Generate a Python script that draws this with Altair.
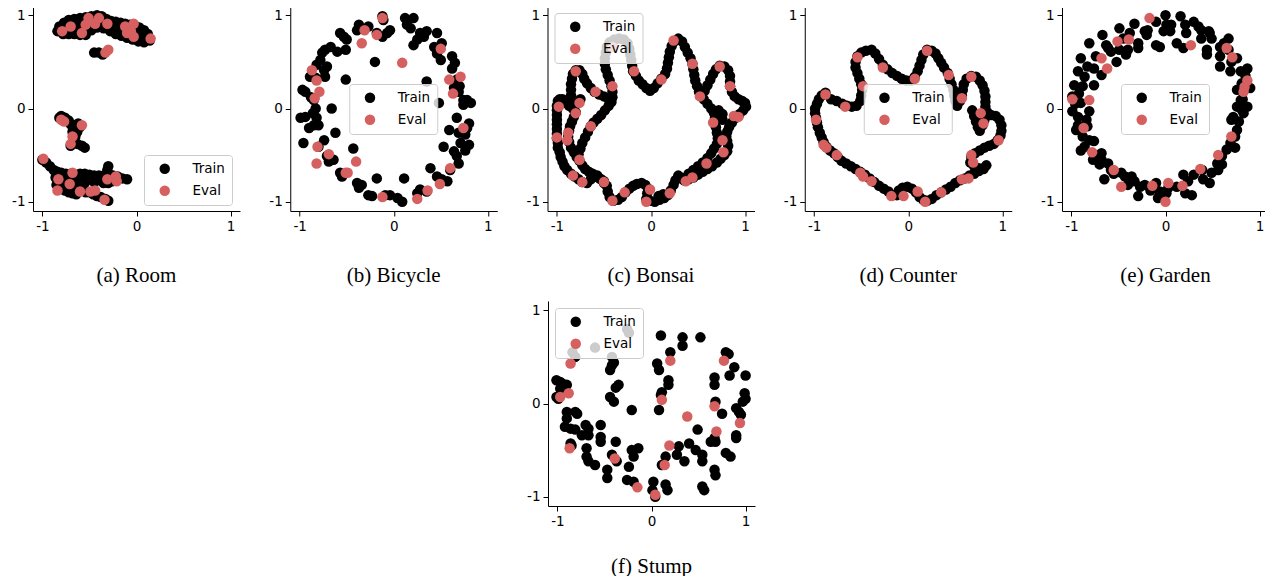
import altair as alt
import pandas as pd

# ---------------- data ----------------
ROOM_TRAIN = [
    (-0.82,0.88),(-0.77,0.92),(-0.72,0.95),(-0.66,0.96),(-0.6,0.97),(-0.54,0.98),(-0.48,0.99),(-0.42,1.0),(-0.37,0.99),
    (-0.32,0.96),(-0.27,0.94),(-0.22,0.93),(-0.17,0.92),(-0.12,0.91),(-0.07,0.9),(-0.02,0.89),(0.03,0.87),(0.08,0.84),(0.12,0.8),
    (-0.84,0.83),(-0.78,0.85),(-0.72,0.87),(-0.66,0.88),(-0.6,0.89),(-0.54,0.91),(-0.48,0.93),(-0.42,0.94),(-0.36,0.92),
    (-0.3,0.89),(-0.24,0.87),(-0.18,0.85),(-0.12,0.84),(-0.06,0.83),(0.0,0.81),(0.05,0.79),(0.1,0.76),(0.14,0.73),
    (-0.78,0.8),(-0.72,0.8),(-0.66,0.8),(-0.6,0.79),(-0.54,0.79),(-0.48,0.84),(-0.42,0.87),(-0.35,0.86),(-0.28,0.83),
    (-0.22,0.8),(-0.16,0.78),(-0.1,0.76),(-0.04,0.74),(0.02,0.72),(0.08,0.71),
    (-0.45,0.6),(-0.4,0.6),(-0.36,0.58),
    (-0.82,-0.1),(-0.8,-0.08),(-0.76,-0.1),(-0.72,-0.13),(-0.7,-0.17),(-0.66,-0.18),(-0.62,-0.16),(-0.6,-0.2),(-0.63,-0.25),
    (-0.65,-0.3),(-0.66,-0.35),(-0.63,-0.38),(-0.58,-0.4),(-0.55,-0.42),(-0.7,-0.4),(-0.68,-0.25),
    (-1.0,-0.55),(-0.96,-0.58),(-0.92,-0.62),(-0.88,-0.66),(-0.84,-0.68),(-0.8,-0.69),(-0.75,-0.7),(-0.7,-0.7),(-0.65,-0.71),
    (-0.6,-0.7),(-0.55,-0.7),(-0.5,-0.71),(-0.45,-0.72),(-0.4,-0.72),(-0.35,-0.72),(-0.3,-0.7),(-0.25,-0.72),(-0.2,-0.73),
    (-0.15,-0.75),(-0.1,-0.76),(-0.3,-0.62),(-0.31,-0.66),
    (-0.86,-0.74),(-0.82,-0.78),(-0.78,-0.8),(-0.74,-0.78),(-0.7,-0.82),(-0.66,-0.84),(-0.62,-0.86),(-0.58,-0.88),(-0.54,-0.9),
    (-0.5,-0.9),(-0.46,-0.92),(-0.42,-0.94),(-0.38,-0.95),(-0.33,-0.97),(-0.3,-0.99),(-0.85,-0.82),(-0.8,-0.86),(-0.76,-0.88),
    (-0.72,-0.9),(-0.68,-0.91),(-0.64,-0.92),(-0.3,-0.8),(-0.26,-0.78),(-0.45,-0.79),(-0.55,-0.8),(-0.6,-0.78),
    (-0.5,-0.76),(-0.4,-0.77),(-0.35,-0.8),(-0.65,-0.76),(-0.7,-0.75),(-0.8,-0.74),
]
ROOM_EVAL = [
    (-0.79,0.83),(-0.7,0.88),(-0.58,0.81),(-0.51,0.97),(-0.54,0.9),(-0.44,0.91),(-0.4,0.97),(-0.31,0.91),(-0.12,0.88),
    (-0.03,0.91),(-0.06,0.83),(-0.03,0.77),(0.15,0.75),(-0.1,0.81),(-0.33,0.6),(-0.3,0.63),(-0.8,-0.12),(-0.77,-0.14),
    (-0.58,-0.18),(-0.68,-0.3),(-0.7,-0.38),(-0.99,-0.54),(-0.83,-0.76),(-0.68,-0.69),(-0.84,-0.88),(-0.71,-0.81),
    (-0.6,-0.89),(-0.49,-0.89),(-0.44,-0.88),(-0.34,-0.98),(-0.31,-0.76),(-0.22,-0.73),(-0.21,-0.78),
]

BICYCLE_TRAIN = [
    (-0.12,0.99),(-0.11,0.95),(0.12,0.97),(0.21,0.97),(0.14,0.9),(0.18,0.86),(-0.04,0.84),(-0.07,0.81),(-0.12,0.77),
    (-0.18,0.81),(-0.27,0.88),(-0.37,0.9),(-0.39,0.84),(-0.57,0.81),(-0.53,0.77),(-0.5,0.74),(-0.67,0.66),(-0.73,0.63),
    (-0.6,0.61),(-0.51,0.63),(-0.78,0.52),(-0.82,0.47),(-0.71,0.45),(-0.74,0.41),(-0.89,0.34),(-0.83,0.33),(-0.73,0.34),
    (-0.94,0.18),(-0.97,0.2),(-0.85,0.09),(-0.83,0.0),(-0.99,-0.1),(-0.94,-0.09),(-0.82,-0.1),(-0.85,-0.18),(-0.9,-0.21),
    (-0.8,-0.18),(-0.74,-0.34),(-0.96,-0.37),(-0.8,-0.41),(-0.71,-0.51),(-0.69,-0.57),(-0.64,-0.55),(-0.57,-0.69),
    (-0.55,-0.73),(-0.39,-0.8),(-0.37,-0.85),(-0.34,-0.82),(-0.27,-0.93),(-0.23,-0.94),(-0.09,-0.93),(-0.04,-0.93),
    (0.04,-0.96),(0.09,-1.0),(0.25,-0.91),(0.28,-0.87),(0.35,-0.89),(0.46,-0.73),(0.51,-0.76),(0.57,-0.78),(0.6,-0.66),
    (0.67,-0.51),(0.69,-0.59),(0.64,-0.46),(0.71,-0.37),(0.8,-0.39),(0.76,-0.28),(0.69,-0.26),(0.8,-0.16),(0.78,-0.21),
    (0.67,-0.1),(0.82,0.06),(0.78,0.09),(0.74,0.09),(0.74,0.04),(0.69,0.18),(0.64,0.22),(0.67,0.31),(0.62,0.43),(0.65,0.49),
    (0.62,0.56),(0.5,0.52),(0.46,0.59),(0.43,0.66),(0.46,0.81),(0.51,0.7),(0.35,0.83),(0.32,0.77),(0.25,0.74),(0.21,0.68),
    (0.28,0.81),(-0.2,0.5),(-0.51,0.31),(-0.66,0.0),(-0.62,-0.26),(-0.43,-0.43),(-0.18,-0.75),(0.11,-0.75),(0.39,-0.64),
    (0.53,-0.41),(0.59,-0.23),(0.35,0.29),(0.48,0.06),(-0.88,0.12),(-0.86,-0.05),(-0.76,0.6),(0.7,0.24),(0.76,-0.45),
]
BICYCLE_EVAL = [
    (-0.12,0.97),(-0.31,0.84),(-0.18,0.79),(-0.34,0.7),(0.09,0.49),(0.5,0.64),(0.59,0.31),(0.71,0.34),(0.63,0.16),
    (0.74,-0.21),(0.6,-0.64),(0.49,-0.81),(0.36,-0.88),(0.25,-0.97),(-0.12,-0.95),(-0.4,-0.57),(-0.51,-0.69),(-0.49,-0.69),
    (-0.69,-0.49),(-0.81,-0.41),(-0.82,-0.59),(-0.84,0.11),(-0.79,0.18),(-0.82,0.3),(-0.87,0.41),
]

BONSAI_TRAIN = [
    (-0.99,0.08),(-0.97,0.1),(-0.94,0.1),(-1.0,0.03),(-1.0,-0.02),(-1.0,-0.07),(-1.0,-0.12),(-1.0,-0.17),(-1.0,-0.22),
    (-1.0,-0.27),(-1.0,-0.32),(-0.99,-0.37),(-0.99,-0.42),(-0.97,-0.47),(-0.96,-0.52),(-0.94,-0.57),(-0.92,-0.62),
    (-0.89,-0.66),(-0.85,-0.7),(-0.81,-0.73),(-0.77,-0.76),(-0.73,-0.79),(-0.68,-0.8),
    (-0.9,0.06),(-0.87,0.03),(-0.83,0.0),(-0.8,-0.04),(-0.82,-0.09),(-0.84,-0.14),(-0.86,-0.19),(-0.87,-0.24),(-0.88,-0.3),
    (-0.87,-0.36),(-0.85,-0.42),(-0.82,-0.47),(-0.79,-0.52),(-0.76,-0.56),(-0.73,-0.61),(-0.7,-0.65),(-0.66,-0.68),
    (-0.62,-0.7),(-0.57,-0.72),(-0.53,-0.76),(-0.5,-0.8),
    (-0.85,0.08),(-0.85,0.14),(-0.85,0.2),(-0.85,0.26),(-0.84,0.32),(-0.83,0.37),(-0.8,0.41),(-0.76,0.41),(-0.73,0.37),
    (-0.71,0.32),(-0.68,0.27),(-0.64,0.22),(-0.6,0.18),(-0.55,0.15),(-0.5,0.13),(-0.45,0.1),(-0.42,0.07),(-0.78,0.06),(-0.75,0.1),
    (-0.41,0.12),(-0.41,0.18),(-0.42,0.24),(-0.44,0.3),(-0.46,0.36),(-0.48,0.42),(-0.49,0.48),(-0.49,0.54),(-0.48,0.6),
    (-0.47,0.66),(-0.44,0.71),(-0.39,0.74),(-0.34,0.75),(-0.29,0.74),(-0.25,0.7),(-0.23,0.64),(-0.22,0.58),(-0.21,0.52),
    (-0.2,0.46),(-0.19,0.4),(-0.16,0.35),(-0.13,0.3),(-0.09,0.26),(-0.05,0.22),(-0.01,0.19),(0.03,0.22),(0.07,0.27),
    (0.11,0.32),(0.15,0.37),(0.17,0.43),(0.18,0.49),(0.19,0.55),(0.2,0.61),(0.22,0.67),(0.25,0.72),(0.29,0.75),(0.33,0.72),
    (0.36,0.66),(0.39,0.6),(0.42,0.54),(0.44,0.48),(0.45,0.42),(0.46,0.36),(0.47,0.3),(0.49,0.24),(0.51,0.18),(0.53,0.14),
    (0.57,0.19),(0.6,0.25),(0.63,0.31),(0.66,0.37),(0.69,0.42),(0.73,0.46),(0.78,0.45),(0.82,0.41),(0.84,0.35),(0.84,0.29),
    (0.84,0.24),(0.86,0.18),(0.89,0.13),(0.93,0.1),(0.97,0.08),(1.0,0.06),(1.01,0.02),(0.98,-0.02),(0.94,-0.06),(0.9,-0.1),
    (0.86,-0.15),(0.83,-0.2),(0.81,-0.25),(0.8,-0.3),(0.81,-0.35),(0.82,-0.4),(0.81,-0.46),(0.78,-0.5),(0.74,-0.54),
    (0.7,-0.58),(0.65,-0.62),(0.6,-0.65),(0.55,-0.68),(0.5,-0.71),(0.45,-0.74),(0.4,-0.76),(0.35,-0.77),
    (0.56,0.1),(0.6,0.05),(0.64,0.0),(0.67,-0.05),(0.68,-0.1),(0.68,-0.15),(0.69,-0.2),(0.7,-0.26),(0.71,-0.32),(0.7,-0.38),
    (0.67,-0.43),(0.64,-0.48),(0.6,-0.53),(0.55,-0.58),(0.5,-0.62),(0.45,-0.66),(0.4,-0.7),(0.72,-0.02),(0.76,-0.06),(0.76,-0.12),
    (0.32,-0.74),(0.29,-0.72),(0.26,-0.77),(0.24,-0.82),(0.21,-0.88),(0.18,-0.93),(0.14,-0.96),(0.09,-0.98),(0.04,-1.0),
    (-0.01,-0.99),(-0.05,-0.97),(-0.04,-0.91),(-0.03,-0.86),(-0.06,-0.82),(-0.1,-0.8),(-0.15,-0.81),(-0.19,-0.83),
    (-0.23,-0.86),(-0.27,-0.9),(-0.31,-0.95),(-0.35,-0.98),(-0.4,-0.99),(-0.44,-0.95),(-0.46,-0.89),(-0.47,-0.83),
    (-0.5,-0.78),(-0.55,-0.75),(-0.6,-0.73),(-0.64,-0.76),(0.08,-0.94),(0.13,-0.92),
    (-0.45,0.03),(-0.49,-0.02),(-0.53,-0.07),(-0.57,-0.11),(-0.61,-0.15),(-0.64,-0.19),(-0.67,-0.25),(-0.7,-0.31),
    (-0.73,-0.37),(-0.75,-0.43),(-0.77,-0.49),
]
BONSAI_EVAL = [
    (-0.98,0.02),(-1.0,-0.31),(-0.88,-0.26),(-0.89,-0.34),(-0.76,-0.55),(-0.83,-0.72),(-0.73,-0.79),(-0.8,-0.05),
    (-0.76,0.06),(-0.8,0.4),(-0.59,0.18),(-0.41,0.24),(-0.64,-0.19),(-0.5,-0.79),(-0.41,-0.99),(-0.28,-0.9),(-0.18,0.4),
    (0.11,0.31),(0.24,0.73),(0.44,0.48),(0.52,0.13),(0.73,0.45),(0.84,0.24),(0.66,-0.15),(0.88,-0.08),(0.93,-0.09),
    (0.76,-0.34),(0.77,-0.47),(0.59,-0.59),(0.44,-0.74),(0.37,-0.78),(0.2,-0.91),(-0.01,-0.87),(-0.05,-1.0),(-0.41,0.66),
]

COUNTER_TRAIN = [
    (-0.88,0.17),(-0.92,0.14),(-0.95,0.1),(-0.97,0.05),(-0.99,0.0),(-0.99,-0.05),(-0.98,-0.1),(-0.97,-0.15),(-0.96,-0.2),
    (-0.94,-0.26),(-0.92,-0.31),(-0.9,-0.36),(-0.87,-0.41),(-0.83,-0.45),(-0.79,-0.48),(-0.75,-0.52),(-0.71,-0.56),
    (-0.66,-0.59),(-0.61,-0.62),(-0.56,-0.65),(-0.51,-0.68),(-0.46,-0.71),(-0.41,-0.75),(-0.36,-0.79),(-0.31,-0.83),
    (-0.26,-0.86),(-0.21,-0.89),(-0.16,-0.93),(-0.12,-0.93),(-0.1,-0.88),(-0.06,-0.85),(-0.01,-0.84),(0.04,-0.86),
    (0.08,-0.9),(0.12,-0.95),(0.16,-0.98),(0.2,-0.99),(0.25,-0.97),(0.3,-0.93),(0.35,-0.9),(0.4,-0.87),(0.45,-0.84),
    (0.5,-0.8),(0.55,-0.77),(0.6,-0.75),(0.65,-0.72),(0.7,-0.7),(0.75,-0.67),(0.8,-0.64),(0.83,-0.61),
    (0.52,0.03),(0.55,0.08),(0.57,0.14),(0.58,0.2),(0.59,0.26),(0.62,0.32),(0.67,0.35),(0.72,0.34),(0.76,0.3),(0.79,0.25),
    (0.81,0.19),(0.82,0.13),(0.82,0.07),(0.82,0.02),(0.84,-0.04),(0.88,-0.07),(0.93,-0.08),(0.97,-0.12),(0.99,-0.18),
    (0.99,-0.24),(0.98,-0.29),(0.95,-0.34),(0.91,-0.38),(0.86,-0.4),(0.81,-0.42),(0.76,-0.45),(0.71,-0.48),(0.67,-0.52),
    (0.66,-0.58),(0.7,-0.62),(0.75,-0.64),(0.8,-0.65),
    (0.68,-0.02),(0.7,-0.08),(0.72,-0.14),(0.74,-0.2),(0.76,-0.24),(0.79,-0.18),(0.81,-0.12),
    (-0.82,0.1),(-0.76,0.08),(-0.7,0.05),(-0.65,0.03),(-0.6,0.02),(-0.55,0.03),(-0.51,0.08),(-0.5,0.14),(-0.49,0.2),
    (-0.5,0.26),(-0.52,0.32),(-0.54,0.38),(-0.56,0.44),(-0.56,0.5),(-0.54,0.56),(-0.5,0.6),(-0.45,0.62),(-0.39,0.63),
    (-0.35,0.59),(-0.31,0.53),(-0.27,0.47),(-0.22,0.42),(-0.17,0.38),(-0.12,0.35),(-0.07,0.32),(-0.02,0.3),(0.03,0.3),
    (0.07,0.34),(0.1,0.4),(0.12,0.46),(0.14,0.52),(0.16,0.58),(0.2,0.63),(0.25,0.62),(0.29,0.59),(0.32,0.54),(0.35,0.49),
    (0.38,0.44),(0.42,0.38),(0.44,0.32),(0.46,0.26),(0.48,0.2),(0.49,0.14),(0.5,0.08),
]
COUNTER_EVAL = [
    (-0.88,0.15),(-0.98,-0.12),(-0.9,-0.39),(-0.87,-0.42),(-0.76,-0.5),(-0.51,-0.69),(-0.48,-0.73),(-0.39,-0.78),
    (-0.18,-0.94),(-0.05,-0.94),(0.1,-0.89),(0.18,-1.0),(0.35,-0.9),(0.57,-0.76),(0.64,-0.75),(0.67,-0.5),(0.69,-0.58),
    (0.96,-0.34),(0.8,-0.16),(0.77,-0.05),(0.57,0.11),(0.67,0.34),(0.43,0.36),(0.2,0.62),(0.07,0.32),(-0.27,0.44),
    (-0.54,0.55),(-0.48,0.24),(-0.67,0.02),
]

GARDEN_TRAIN = [
    (0.0,1.0),(0.16,0.99),(-0.1,0.93),(0.01,0.9),(0.06,0.9),(-0.02,0.83),(0.05,0.83),(0.21,0.9),(0.22,0.81),(0.3,0.93),
    (0.38,0.84),(0.46,0.83),(0.47,0.81),(0.38,0.75),(0.49,0.75),(0.12,0.7),(0.19,0.65),(-0.1,0.68),(-0.06,0.66),
    (-0.22,0.83),(-0.2,0.79),(-0.19,0.84),(-0.33,0.91),(-0.38,0.81),(-0.49,0.86),(-0.67,0.79),(-0.81,0.7),(-0.61,0.65),
    (-0.58,0.61),(-0.49,0.63),(-0.4,0.63),(-0.29,0.65),(-0.29,0.7),(-0.42,0.58),(-0.52,0.5),(-0.74,0.56),(-0.9,0.54),
    (-0.83,0.45),(-0.76,0.43),(-0.68,0.36),(-0.93,0.4),(-0.86,0.34),(-0.97,0.25),(-0.88,0.24),(-0.76,0.25),(-0.92,0.16),
    (-0.99,0.13),(-0.9,0.06),(-0.99,-0.03),(-0.93,-0.09),(-0.81,-0.03),(-0.93,-0.18),(-0.95,-0.23),(-0.83,-0.19),
    (-0.88,-0.3),(-0.81,-0.34),(-0.86,-0.41),(-0.76,-0.35),(-0.77,-0.55),(-0.74,-0.5),(-0.68,-0.48),(-0.68,-0.55),
    (-0.7,-0.6),(-0.61,-0.59),(-0.58,-0.66),(-0.65,-0.76),(-0.47,-0.69),(-0.43,-0.73),(-0.36,-0.73),(-0.33,-0.78),
    (-0.4,-0.82),(-0.29,-0.94),(-0.27,-0.84),(-0.22,-0.82),(-0.1,-0.8),(-0.06,-0.89),(-0.08,-0.96),(0.01,-0.91),
    (0.03,-0.85),(0.12,-0.84),(0.19,-0.71),(0.21,-0.91),(0.28,-0.93),(0.24,-0.78),(0.3,-0.71),(0.39,-0.66),(0.4,-0.76),
    (0.47,-0.8),(0.49,-0.69),(0.55,-0.59),(0.6,-0.6),(0.6,-0.51),(0.65,-0.44),(0.69,-0.37),(0.74,-0.42),(0.74,-0.3),
    (0.76,-0.23),(0.78,-0.14),(0.72,-0.09),(0.76,0.02),(0.87,0.02),(0.81,-0.01),(0.8,0.09),(0.76,0.2),(0.9,0.22),
    (0.81,0.27),(0.87,0.43),(0.8,0.4),(0.69,0.4),(0.76,0.54),(0.67,0.63),(0.58,0.56),(0.58,0.45),(0.62,0.7),(0.67,0.75),
    (0.44,0.58),(0.44,0.63),(0.58,0.66),(-0.84,-0.12),(-0.96,0.05),(-0.9,-0.45),(-0.55,-0.7),(0.82,0.1),(0.85,0.35),
    (0.7,-0.12),(0.35,0.88),(-0.45,0.75),(-0.63,0.68),(0.56,-0.66),(-0.16,-0.88),(0.7,0.5),(0.83,-0.05),
]
GARDEN_EVAL = [
    (-0.17,0.97),(0.27,0.68),(0.65,0.65),(0.71,0.55),(0.87,0.3),(0.84,0.23),(0.83,0.18),(0.7,-0.3),(0.56,-0.5),
    (0.37,-0.65),(0.18,-0.83),(0.03,-0.8),(-0.14,-0.83),(0.0,-1.0),(-0.47,-0.84),(-0.55,-0.66),(-0.78,-0.47),
    (-0.87,-0.21),(-0.99,0.1),(-0.81,0.09),(-0.62,0.43),(-0.68,0.54),(-0.51,0.72),(-0.39,0.74),
]

STUMP_TRAIN = [
    (-1.01,0.25),(-0.97,0.23),(-0.94,0.21),(-0.9,0.2),(-0.97,0.16),(-1.01,0.07),(-0.99,0.05),(-0.9,-0.09),(-0.9,-0.16),
    (-0.81,-0.09),(-0.79,-0.11),(-0.92,-0.25),(-0.86,-0.27),(-0.81,-0.28),(-0.74,-0.34),(-0.7,-0.23),(-0.67,-0.27),
    (-0.67,-0.34),(-0.54,-0.23),(-0.54,-0.36),(-0.54,-0.41),(-0.86,-0.43),(-0.69,-0.48),(-0.69,-0.57),(-0.67,-0.62),
    (-0.6,-0.66),(-0.47,-0.71),(-0.47,-0.8),(-0.38,-0.41),(-0.42,-0.55),(-0.37,-0.62),(-0.24,-0.68),(-0.26,-0.82),
    (-0.19,-0.84),(-0.21,-0.5),(-0.19,-0.57),(-0.14,-0.48),(0.02,-0.84),(0.01,-0.93),(0.04,-1.0),(0.15,-0.87),(0.17,-0.93),
    (0.15,-0.57),(0.11,-0.66),(0.27,-0.55),(0.29,-0.46),(0.35,-0.62),(0.4,-0.43),(0.49,-0.28),(0.47,-0.5),(0.54,-0.55),
    (0.54,-0.62),(0.54,-0.89),(0.56,-0.93),(0.63,-0.41),(0.67,-0.37),(0.68,-0.41),(0.67,-0.71),(0.68,-0.77),(0.79,-0.53),
    (0.84,-0.57),(0.9,-0.34),(0.9,-0.37),(0.9,-0.05),(0.93,-0.09),(0.95,-0.12),(0.97,0.02),(0.99,0.11),(1.0,0.05),
    (1.0,0.3),(0.88,0.39),(0.83,0.3),(0.79,0.55),(0.82,0.53),(0.67,0.28),(0.67,0.2),(0.68,0.02),(0.75,-0.11),(0.52,0.71),
    (0.33,0.71),(0.33,0.62),(0.1,0.73),(0.06,0.43),(0.08,0.36),(0.18,0.25),(0.18,0.2),(0.11,0.12),(0.1,0.09),(0.08,-0.07),
    (0.2,0.55),(-0.42,0.41),(-0.44,0.36),(-0.4,0.44),(-0.35,0.2),(-0.44,0.07),(-0.4,0.02),(-0.21,-0.07),(-0.81,0.5),
    (-0.84,0.55),(-0.6,0.6),(-0.26,0.8),(-0.24,0.76),(-0.42,0.5),(-0.38,0.17),(-0.85,-0.45),
]
STUMP_EVAL = [
    (-0.86,0.43),(-0.88,0.11),(-0.97,0.07),(-0.87,-0.48),(-0.39,-0.59),(-0.15,-0.9),(0.04,-0.98),(0.14,-0.66),
    (0.19,-0.45),(0.38,-0.14),(0.11,0.04),(0.2,0.46),(0.67,-0.03),(0.69,-0.3),(0.94,-0.21),(0.77,0.46),
]

CAPTIONS = ["(a) Room", "(b) Bicycle", "(c) Bonsai", "(d) Counter", "(e) Garden", "(f) Stump"]
SERIES = ["Train", "Eval"]
COLORS = ["#000000", "#d65f5f"]
TICKS = [-1, 0, 1]

# ---------------- chart ----------------
PW, PH = 207, 205
AX = dict(values=TICKS, title=None, grid=False, domainColor="black", domainWidth=1,
          tickColor="black", tickWidth=1, tickSize=5, labelColor="black",
          labelFont="DejaVu Sans", labelFontSize=13.5, labelPadding=3,
          labelExpr="datum.value < 0 ? '-' + abs(datum.value) : '' + datum.value")


def panel(train, evals, caption, lx, ly, title_offset=32):
    rows = [{"x": x, "y": y, "set": "Train", "k": i} for i, (x, y) in enumerate(train)]
    rows += [{"x": x, "y": y, "set": "Eval", "k": len(train) + i} for i, (x, y) in enumerate(evals)]
    df = pd.DataFrame(rows)
    return alt.Chart(df, title=alt.TitleParams(
        caption, orient="bottom", anchor="middle", frame="group", font="Liberation Serif",
        fontSize=21, fontWeight="normal", color="black", baseline="top", offset=title_offset)).mark_circle(
        size=110, opacity=1).encode(
        x=alt.X("x:Q", scale=alt.Scale(domain=[-1.1, 1.1], nice=False, zero=False), axis=alt.Axis(**AX)),
        y=alt.Y("y:Q", scale=alt.Scale(domain=[-1.1, 1.1], nice=False, zero=False), axis=alt.Axis(**AX)),
        color=alt.Color("set:N", scale=alt.Scale(domain=SERIES, range=COLORS),
                        legend=alt.Legend(title=None, orient="none", legendX=lx, legendY=ly,
                                          fillColor="rgba(255,255,255,0.8)", strokeColor="#cccccc",
                                          cornerRadius=3, padding=7, symbolType="circle", symbolSize=110,
                                          symbolOffset=7, symbolStrokeWidth=0, labelOffset=21,
                                          rowPadding=7, labelFont="DejaVu Sans", labelFontSize=13.5,
                                          labelColor="black")),
        order=alt.Order("k:Q"),
    ).properties(width=PW, height=PH)


pa = panel(ROOM_TRAIN, ROOM_EVAL, CAPTIONS[0], 111, 149)
pb = panel(BICYCLE_TRAIN, BICYCLE_EVAL, CAPTIONS[1], 59, 78)
pc = panel(BONSAI_TRAIN, BONSAI_EVAL, CAPTIONS[2], 7, 7)
pd_ = panel(COUNTER_TRAIN, COUNTER_EVAL, CAPTIONS[3], 59, 78)
pe = panel(GARDEN_TRAIN, GARDEN_EVAL, CAPTIONS[4], 59, 78)
pf = panel(STUMP_TRAIN, STUMP_EVAL, CAPTIONS[5], 7, 7, title_offset=28)

spacer = alt.Chart(pd.DataFrame({"v": [0]})).mark_text(text="").encode(
    x=alt.value(0), y=alt.value(0)).properties(width=493, height=10)

top = alt.hconcat(pa, pb, pc, pd_, pe, spacing=28.25).resolve_scale(color="independent").resolve_legend(color="independent")
bottom = alt.hconcat(spacer, pf, spacing=0).resolve_scale(color="independent").resolve_legend(color="independent")

chart = alt.vconcat(top, bottom, spacing=9).resolve_scale(color="independent").resolve_legend(
    color="independent").properties(padding={"left": 3, "top": -2, "right": -4, "bottom": -1}).configure_view(stroke=None)

chart.save("out.html", embed_options={"renderer": "svg", "actions": False})
